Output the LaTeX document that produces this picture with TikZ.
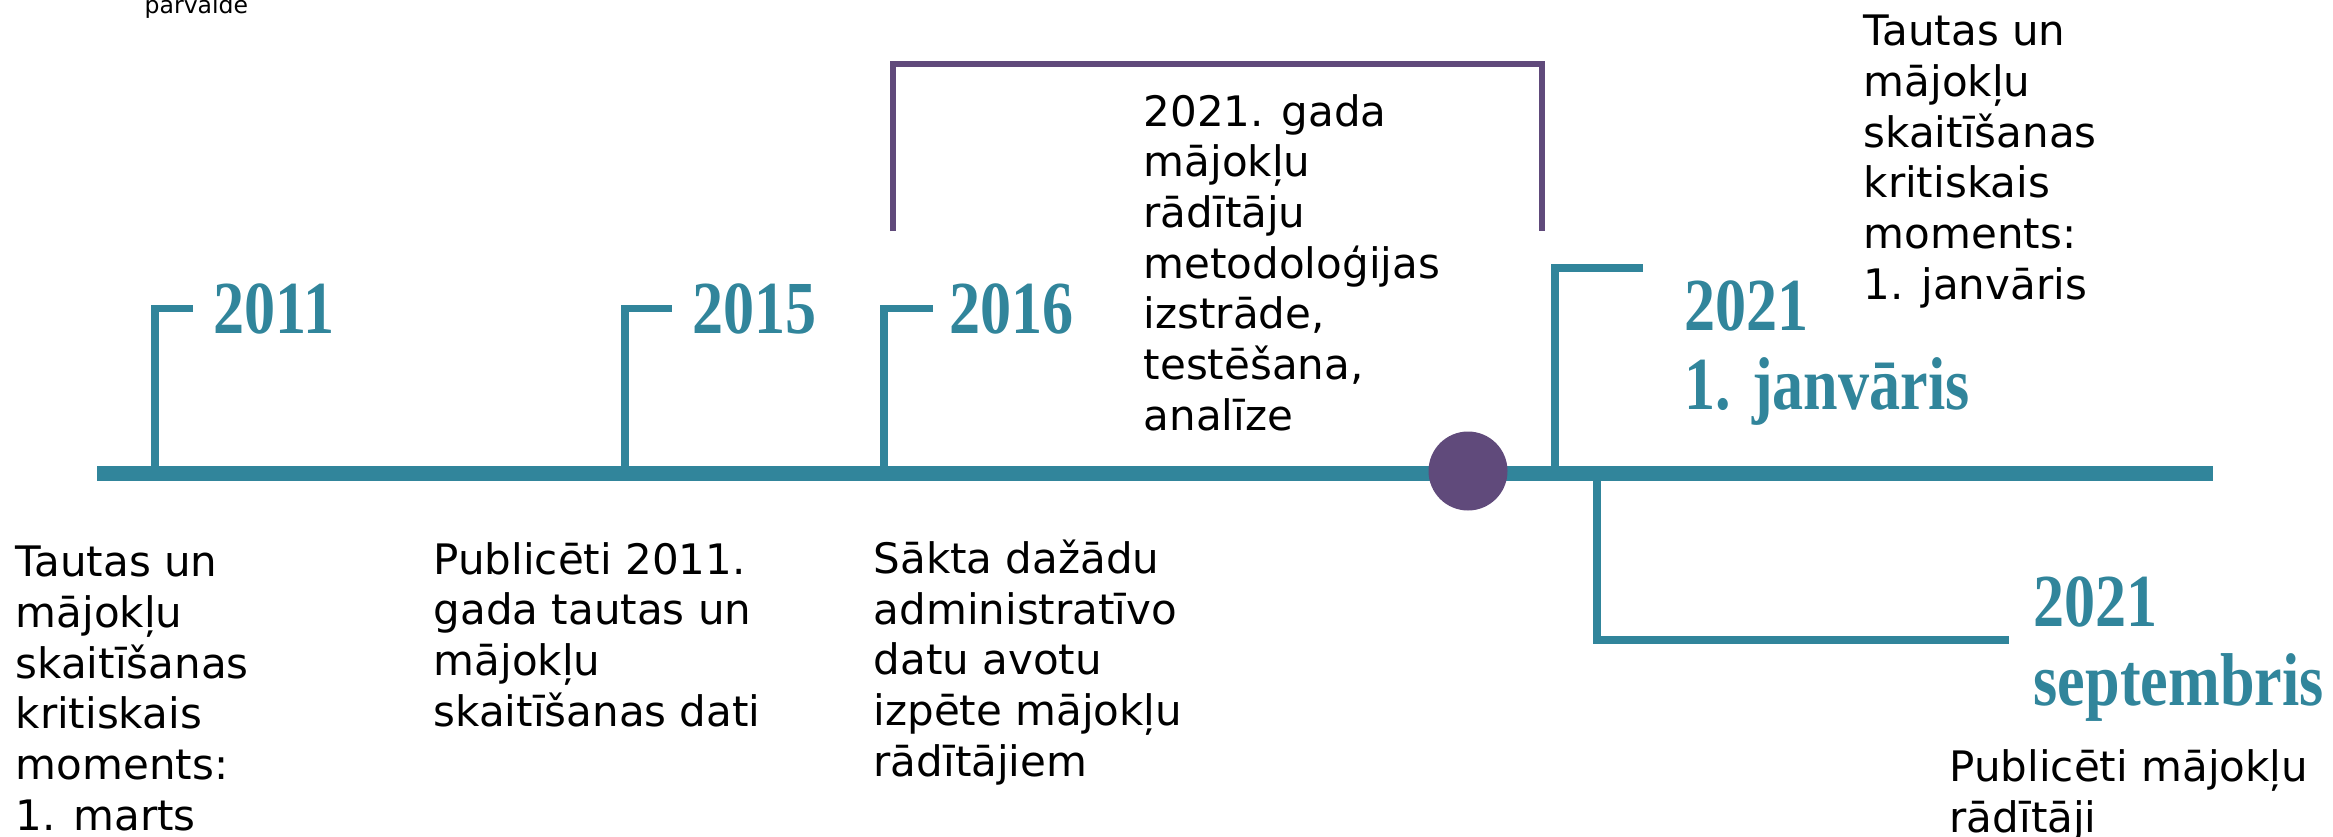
\documentclass[tikz,border=0pt]{standalone}
\usepackage{fontspec}
\setmainfont{DejaVu Sans}
\newfontfamily\yearfont[FakeStretch=0.83]{Liberation Serif Bold}
\usepackage{xcolor}
\usepackage{tikz}
\definecolor{lineteal}{RGB}{49,133,155}
\definecolor{markpurple}{RGB}{96,74,123}

\begin{document}
\begin{tikzpicture}[x=0.1mm, y=-0.1mm,
  body/.style={font=\fontsize{11.95pt}{14.4pt}\selectfont, align=left, anchor=base west, inner sep=0pt},
  year/.style={font=\yearfont\fontsize{21.3pt}{22.2pt}\selectfont, text=lineteal, align=left, anchor=base west, inner sep=0pt},
  stem/.style={draw=lineteal, line width=0.75mm},
  bracket/.style={draw=markpurple, line width=0.6mm}]

\useasboundingbox (0,0) rectangle (2333,836);

% Header fragment
\node[font=\fontsize{6.7pt}{8pt}\selectfont, anchor=base west, inner sep=0pt] (hdr) at (144,13) {parvalde};

% Timeline bar
\coordinate (barL) at (97,473);
\coordinate (barR) at (2213,473);
\draw[lineteal, line width=1.5mm] (barL) -- (barR);

% Years (anchored at the baseline of the last line)
\node[year] (y2011) at (213,333) {2011};
\node[year] (y2015) at (692,333) {2015};
\node[year] (y2016) at (949,333) {2016};
\node[year] (y2021a) at (1684,409) {2021\\1. janvāris};
\node[year] (y2021b) at (2033,705) {2021\\septembris};

% Stems
\coordinate (s2011) at (155,473);
\coordinate (s2015) at (625,473);
\coordinate (s2016) at (884,473);
\coordinate (s2021a) at (1555,473);
\coordinate (s2021b) at (1597,473);
\coordinate (t2021a) at (1643,268);
\coordinate (t2021b) at (2009,640);
\draw[stem] (s2011) |- ([xshift=-2mm]y2011.west);
\draw[stem] (s2015) |- ([xshift=-2mm]y2015.west);
\draw[stem] (s2016) |- ([xshift=-1.6mm]y2016.west);
\draw[stem] (s2021a) |- (t2021a);
\draw[stem] (s2021b) |- (t2021b);

% Development period
\coordinate (brL) at (893,231);
\coordinate (brR) at (1542,231);
\draw[bracket] (brL) -- ++(0,-167) -| (brR);
\node[circle, fill=markpurple, inner sep=0pt, minimum size=7.9mm] (dot) at (1468,471) {};

% Descriptions (anchored at the baseline of the last line)
\node[body] (d2011) at (15,830) {Tautas un\\mājokļu\\skaitīšanas\\kritiskais\\moments:\\1. marts};
\node[body] (d2015) at (433,726) {Publicēti 2011.\\gada tautas un\\mājokļu\\skaitīšanas dati};
\node[body] (d2016) at (873,776) {Sākta dažādu\\administratīvo\\datu avotu\\izpēte mājokļu\\rādītājiem};
\node[body] (dmeth) at (1143,430) {2021. gada\\mājokļu\\rādītāju\\metodoloģijas\\izstrāde,\\testēšana,\\analīze};
\node[body] (d2021a) at (1863,299) {Tautas un\\mājokļu\\skaitīšanas\\kritiskais\\moments:\\1. janvāris};
\node[body] (d2021b) at (1949,832) {Publicēti mājokļu\\rādītāji};

\end{tikzpicture}
\end{document}
